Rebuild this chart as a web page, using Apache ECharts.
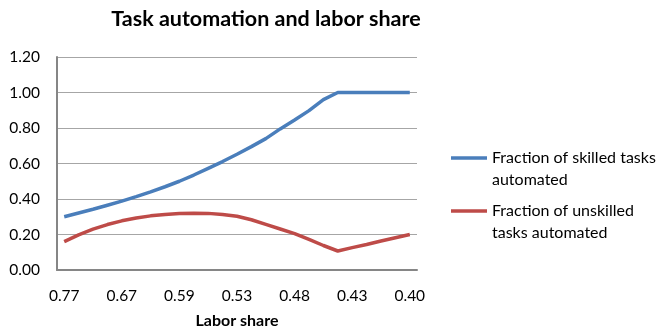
<!DOCTYPE html>
<html>
<head>
<meta charset="utf-8">
<script src="https://cdn.jsdelivr.net/npm/echarts@6/dist/echarts.min.js"></script>
<style>
  html, body { margin: 0; padding: 0; background: #ffffff; }
  #chart { width: 660px; height: 328px; }
</style>
</head>
<body>
<div id="chart"></div>
<script>
// Labor share shown under every fourth step of the automation sweep
const tickLabels = ['0.77', '0.67', '0.59', '0.53', '0.48', '0.43', '0.40'];
const stepsPerTick = 4;

// Fraction of tasks automated at each step (25 steps)
const skilledAutomated = [
  0.300, 0.321, 0.342, 0.365, 0.388, 0.413, 0.440, 0.469, 0.500, 0.535,
  0.573, 0.611, 0.652, 0.695, 0.740, 0.795, 0.845, 0.898, 0.960, 1.000,
  1.000, 1.000, 1.000, 1.000, 1.000
];
const unskilledAutomated = [
  0.160, 0.198, 0.230, 0.256, 0.277, 0.293, 0.305, 0.313, 0.318, 0.320,
  0.319, 0.313, 0.303, 0.283, 0.257, 0.231, 0.205, 0.172, 0.138, 0.107,
  0.126, 0.144, 0.163, 0.182, 0.200
];

const seriesNames = ['Fraction of skilled tasks automated', 'Fraction of unskilled tasks automated'];
const legendLines = {
  'Fraction of skilled tasks automated': ['Fraction of skilled tasks', 'automated'],
  'Fraction of unskilled tasks automated': ['Fraction of unskilled', 'tasks automated']
};

// one category per step; only every fourth carries a labor-share label
const categories = skilledAutomated.map((_, i) =>
  i % stepsPerTick === 0 ? tickLabels[i / stepsPerTick] : '');

const FONT = 'Lato';
const chart = echarts.init(document.getElementById('chart'), null, { renderer: 'canvas' });

chart.setOption({
  animation: false,
  backgroundColor: '#ffffff',
  textStyle: { fontFamily: FONT },
  title: {
    text: 'Task automation and labor share',
    left: 261,
    textAlign: 'center',
    top: 3,
    textStyle: { fontFamily: FONT, fontSize: 21.5, fontWeight: 'bold', color: '#000000' }
  },
  // fixed plot rectangle; do not let the axis name push it inward
  grid: { left: 57, right: 243, top: 57, bottom: 58, containLabel: false, outerBoundsMode: 'none' },
  legend: {
    orient: 'vertical',
    left: 446,
    top: 120,
    icon: 'rect',
    itemWidth: 36,
    itemHeight: 3.5,
    itemGap: -13,
    data: seriesNames,
    formatter: name => ' \n' + legendLines[name].join('\n'),
    textStyle: { fontFamily: FONT, fontSize: 16, color: '#000000', lineHeight: 22 }
  },
  xAxis: {
    type: 'category',
    data: categories,
    boundaryGap: true,
    name: 'Labor share',
    nameLocation: 'middle',
    nameGap: 43,
    nameTextStyle: { fontFamily: FONT, fontSize: 16, fontWeight: 'bold', color: '#000000' },
    axisLine: { lineStyle: { color: '#868686', width: 2 } },
    axisTick: { show: false },
    axisLabel: { interval: 0, margin: 18, fontSize: 15.5, color: '#000000', fontFamily: FONT },
    splitLine: { show: false }
  },
  yAxis: {
    type: 'value',
    min: 0,
    max: 1.2,
    interval: 0.2,
    axisLine: { show: true, lineStyle: { color: '#868686', width: 2 } },
    axisTick: { show: false },
    axisLabel: { margin: 17, fontSize: 15.5, color: '#000000', fontFamily: FONT,
                 formatter: v => v.toFixed(2) },
    splitLine: { lineStyle: { color: '#a6a6a6', width: 1 } }
  },
  series: [
    {
      name: seriesNames[0],
      type: 'line',
      data: skilledAutomated,
      symbol: 'none',
      smooth: false,
      lineStyle: { color: '#4a7ebb', width: 3.5 },
      itemStyle: { color: '#4a7ebb' }
    },
    {
      name: seriesNames[1],
      type: 'line',
      data: unskilledAutomated,
      symbol: 'none',
      smooth: false,
      lineStyle: { color: '#be4b48', width: 3.5 },
      itemStyle: { color: '#be4b48' }
    }
  ]
});
</script>
</body>
</html>
